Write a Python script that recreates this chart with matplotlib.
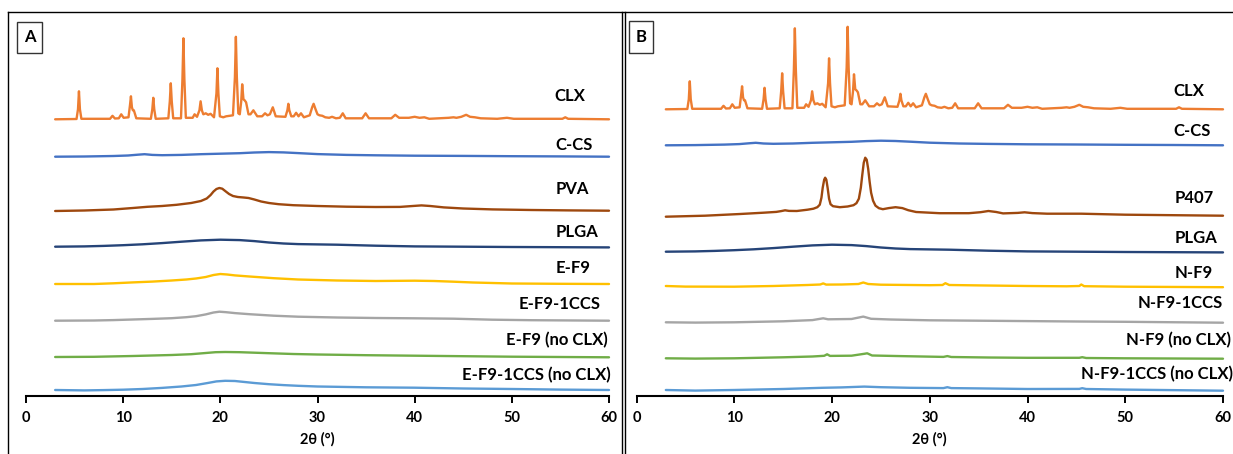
import numpy as np
import matplotlib
matplotlib.use("Agg")
import matplotlib.pyplot as plt
from matplotlib.patches import Rectangle
from matplotlib.lines import Line2D

plt.rcParams["font.family"] = ["Lato", "DejaVu Sans"]
plt.rcParams["font.weight"] = "bold"

W, H = 1233, 454

# ---------------- diffraction patterns: (2theta, intensity above baseline, a.u.) ----------------
clx = [(3, 0), (5.2, 0.3), (5.35, 10), (5.45, 28), (5.55, 10), (5.7, 0.5), (8.65, 0.5), (8.9, 3.5),
       (9.15, 0.8), (9.55, 1), (9.8, 5), (10.05, 1.5), (10.55, 2), (10.7, 14), (10.8, 23), (10.9, 12),
       (11.0, 9), (11.1, 9), (11.35, 1), (12.85, 0.5), (13.0, 10), (13.1, 21.5), (13.2, 10), (13.35, 0.5),
       (14.65, 1), (14.8, 18), (14.9, 36), (15.0, 18), (15.15, 1), (15.95, 1), (16.1, 40), (16.2, 81),
       (16.3, 40), (16.45, 1.5), (17.15, 1.5), (17.35, 5), (17.6, 2.5), (17.85, 9), (17.97, 18),
       (18.1, 9), (18.25, 5), (18.5, 6), (18.75, 4.5), (19.0, 5.5), (19.35, 2), (19.6, 26), (19.7, 51),
       (19.8, 26), (19.95, 3), (20.3, 2), (20.6, 3), (21.3, 4), (21.5, 42), (21.6, 82.5), (21.7, 42),
       (21.85, 6), (22.0, 5), (22.15, 18), (22.25, 35), (22.38, 20), (22.5, 19), (22.65, 17), (22.9, 5),
       (23.1, 5), (23.4, 9), (23.8, 3), (24.3, 3), (24.6, 6), (24.85, 4), (25.1, 5), (25.4, 12), (25.7, 3),
       (26.7, 2.5), (26.9, 9), (27.0, 15.5), (27.1, 9), (27.3, 3), (27.55, 3), (27.8, 6.5), (28.05, 3),
       (28.3, 6), (28.6, 2), (29.2, 4), (29.45, 12), (29.6, 15.5), (29.8, 10), (30.0, 5), (30.2, 4),
       (30.5, 3.5), (30.8, 2), (31.2, 1.5), (31.5, 2.5), (31.9, 1), (32.3, 1.5), (32.6, 6), (32.9, 1),
       (34.6, 1), (34.95, 6), (35.3, 1), (37.6, 1), (38.0, 4.5), (38.4, 1.5), (39.4, 1.5), (40.0, 2.5),
       (40.5, 1.5), (41.0, 2), (41.5, 0.5), (43.5, 1.5), (44.0, 2), (44.3, 1.5), (44.8, 2.5), (45.3, 4.5),
       (45.7, 2.5), (46.2, 2), (46.8, 1), (48.5, 0.5), (49.5, 1.5), (50.2, 0.5), (52, 0.5), (55.2, 0.5),
       (55.5, 2), (55.8, 0.5), (60, 0)]

c_cs = [(3, 0), (6, 0.2), (9, 0.7), (10.5, 1.2), (11.5, 2), (12.2, 2.5), (13, 1.8), (14, 1.5),
        (16, 1.8), (18, 2.5), (20, 3), (22, 3.5), (23.5, 4.2), (25, 4.6), (26.5, 4.3), (28, 3.6),
        (30, 2.6), (33, 1.8), (36, 1.4), (40, 1), (45, 0.8), (50, 0.5), (55, 0.3), (60, 0)]

pva = [(3, 0), (6, 0.5), (9, 1.5), (11, 3), (12.5, 4.2), (14, 5), (15.5, 6.2), (17, 8), (18, 10),
       (18.6, 12.5), (19.0, 16), (19.3, 19.5), (19.6, 22), (19.9, 23), (20.2, 22.3), (20.5, 20),
       (20.9, 17), (21.3, 15), (21.8, 14), (22.4, 13.5), (22.9, 13), (23.5, 11.5), (24.2, 9.5),
       (25, 8), (26, 6.8), (27.5, 5.8), (30, 5), (33, 4.3), (36, 4), (38.5, 4.1), (39.8, 5),
       (40.7, 5.6), (41.6, 5), (43, 3.6), (45, 2.5), (48, 1.6), (52, 1.0), (56, 0.6), (60, 0.3)]

plga = [(3, 0), (6, 0.3), (8, 0.8), (10, 1.5), (12, 2.4), (14, 3.6), (16, 5), (18, 6.3), (20, 7),
        (22, 6.6), (23.5, 5.6), (25, 4.2), (26.5, 3.2), (28, 2.6), (32, 2), (36, 1), (40, 0.3), (45, 0),
        (50, -0.3), (60, -0.7)]

e_f9 = [(3, 0), (7, 0), (9, 0.7), (11, 1.6), (13, 2.4), (15, 3.5), (16.5, 4.5), (17.5, 5.5), (18.5, 7),
        (19.3, 9), (20, 10), (20.7, 9.5), (21.5, 8.6), (23, 7.5), (25.5, 5.8), (28, 4.5), (32, 3.5),
        (36, 3), (40, 3.3), (42, 3), (44, 2.3), (46, 1.5), (50, 0.5), (55, 0.2), (60, 0)]

e_f9_1ccs = [(3, 0), (7, 0.2), (9, 0.6), (11, 1.2), (13, 1.8), (15, 2.5), (16.5, 3.5), (17.5, 4.5),
             (18.5, 6.3), (19.3, 8.2), (19.9, 9), (20.6, 8.5), (21.5, 7.6), (23, 6.5), (25.5, 5), (28, 4),
             (32, 3.2), (36, 2.7), (40, 2.4), (44, 2), (48, 1), (52, 0.5), (60, 0)]

e_f9_noclx = [(3, 0), (7, 0.2), (11, 1), (15, 2), (17, 2.8), (18.5, 4), (19.5, 4.8), (20.5, 5),
              (22, 4.8), (23.5, 4.3), (25, 3.8), (27.5, 3), (30, 2.5), (35, 1.8), (40, 1.3), (45, 0.8),
              (50, 0.3), (60, -0.3)]

e_f9_1ccs_noclx = [(3, 0), (6, -0.4), (8, -0.1), (10, 0.3), (12, 1), (14, 2.1), (16, 3.5), (17.5, 5),
                   (18.7, 7), (19.6, 8.6), (20.5, 9.2), (21.5, 9), (22.5, 8), (23.5, 7), (25, 5.8),
                   (26.5, 4.9), (28, 4.2), (30, 3.5), (35, 2.7), (40, 2.3), (45, 1.5), (50, 1), (55, 0.4),
                   (60, 0)]

p407 = [(3, 0), (7, 1), (10.6, 2.7), (13, 4), (14.3, 4.8), (14.8, 5.6), (15.2, 6.4), (15.6, 5.8),
        (16.4, 5.7), (17.5, 7), (18.1, 8), (18.5, 9.5), (18.75, 12), (18.92, 19), (19.05, 29), (19.2, 37),
        (19.3, 39), (19.42, 37), (19.55, 29), (19.7, 18), (19.85, 12.5), (20.1, 10.5), (20.8, 9.5),
        (21.6, 10.2), (22.2, 11.5), (22.5, 13.5), (22.75, 18), (22.95, 29), (23.1, 42), (23.25, 54),
        (23.4, 59), (23.55, 57), (23.7, 48), (23.85, 35), (24.0, 24), (24.2, 16), (24.45, 11),
        (24.8, 8.5), (25.2, 7.5), (25.8, 8.6), (26.5, 9.5), (27.2, 8.6), (27.8, 6.5), (28.6, 4.7),
        (31, 3.5), (34, 3.5), (35.2, 4.5), (36, 5.7), (36.8, 4.7), (37.5, 3.3), (39, 3.8), (39.7, 4.4),
        (40.5, 3.6), (42, 3), (45.5, 3), (50, 2), (60, 1)]

n_f9 = [(3, 0), (5, -0.6), (10, -0.7), (14, 0), (17.5, 1), (18.8, 1.5), (19.1, 2.6), (19.4, 1.4),
        (21, 1.5), (22.7, 2), (23.2, 3.5), (23.7, 2), (25, 1.3), (30, 0.8), (31.3, 1), (31.6, 2.8),
        (32, 1), (35, 0.6), (40, 0), (44, -0.3), (45.3, 0), (45.5, 1.5), (45.8, -0.2), (50, -0.7),
        (60, -1.2)]

n_f9_1ccs = [(3, 0), (6, -0.3), (10, 0), (15, 1), (18, 2.2), (19.1, 4), (19.6, 3), (22, 3.3),
             (23.2, 5.7), (24, 3.5), (26, 2.8), (30, 2), (35, 1.6), (40, 1.2), (45, 0.8), (50, 0.5),
             (60, -0.4)]

n_f9_noclx = [(3, 0), (6, -0.3), (10, 0), (15, 1), (18, 1.8), (19.2, 2.5), (19.5, 4), (19.8, 2.4),
              (22, 2.6), (23.3, 4.5), (23.6, 5), (24.1, 2.8), (27, 2.2), (31.4, 1.4), (31.8, 2.2),
              (32.2, 1.3), (36, 0.8), (40, 0.5), (45.3, 0.5), (45.6, 1.1), (46, 0.3), (50, 0), (60, -0.4)]

n_f9_1ccs_noclx = [(3, 0), (6, -0.6), (10, 0), (15, 1), (19, 2.2), (21, 2.6), (23.3, 3.4), (25, 2.8),
                   (28, 2.2), (31.4, 1.9), (31.8, 2.8), (32.2, 1.9), (35, 1.6), (40, 1), (45.3, 1.1),
                   (45.6, 1.8), (46, 1), (50, 0.4), (60, -0.7)]

# stacking offsets of each trace (a.u.)
names_a = ["CLX", "C-CS", "PVA", "PLGA", "E-F9", "E-F9-1CCS", "E-F9 (no CLX)", "E-F9-1CCS (no CLX)"]
patterns_a = [clx, c_cs, pva, plga, e_f9, e_f9_1ccs, e_f9_noclx, e_f9_1ccs_noclx]
offsets_a = [276.2, 238.8, 184.5, 148.8, 111.5, 74.8, 38.5, 5.5]

names_b = ["CLX", "C-CS", "P407", "PLGA", "N-F9", "N-F9-1CCS", "N-F9 (no CLX)", "N-F9-1CCS (no CLX)"]
patterns_b = [clx, c_cs, p407, plga, n_f9, n_f9_1ccs, n_f9_noclx, n_f9_1ccs_noclx]
offsets_b = [286.2, 250.2, 178.8, 143.8, 109.5, 73.2, 37.2, 5.5]

colors = ["#ED7D31", "#4472C4", "#9E480E", "#264478", "#FFC000", "#A5A5A5", "#70AD47", "#5B9BD5"]
x_ticks = [0, 10, 20, 30, 40, 50, 60]

# label placement (figure pixels: centre x, centre y from top)
label_pos_a = [(570, 96), (574, 145.5), (572, 189), (577, 232), (573, 268), (559.5, 304), (557, 340), (536, 375)]
label_pos_b = [(1189, 91), (1192, 131), (1194, 198), (1196, 238), (1194, 273), (1180, 303), (1178, 340), (1157, 374)]

fig = plt.figure(figsize=(W / 100, H / 100), dpi=100)
fig.patch.set_facecolor("white")

axis_y_px = 395.5
y_top = 380.0
bottom = (H - axis_y_px) / H
height = y_top / H


def panel(x0_px, x60_px, names, patterns, offsets, label_pos):
    ax = fig.add_axes([x0_px / W, bottom, (x60_px - x0_px) / W, height])
    ax.patch.set_alpha(0)
    for pat, off, col in zip(patterns, offsets, colors):
        arr = np.array(pat, dtype=float)
        ax.plot(arr[:, 0], arr[:, 1] + off, color=col, lw=1.7, solid_joinstyle="round",
                solid_capstyle="round", clip_on=False)
    ax.set_xlim(0, 60)
    ax.set_ylim(0, y_top)
    for s in ("left", "right", "top"):
        ax.spines[s].set_visible(False)
    ax.spines["bottom"].set_linewidth(1.5)
    ax.spines["bottom"].set_color("black")
    ax.set_yticks([])
    ax.set_xticks(x_ticks)
    ax.set_xticklabels([str(t) for t in x_ticks])
    ax.tick_params(axis="x", direction="out", length=5, width=1.4, pad=6, labelsize=10.5, colors="black")
    for lab in ax.get_xticklabels():
        lab.set_fontweight("bold")
    ax.set_xlabel("2θ (°)", fontsize=10.5, fontweight="bold", labelpad=5)
    for name, (lx, ly) in zip(names, label_pos):
        fig.text(lx / W, 1 - ly / H, name, ha="center", va="center", fontsize=12,
                 fontweight="bold", color="black")
    return ax


panel(26, 609, names_a, patterns_a, offsets_a, label_pos_a)
panel(636.5, 1223, names_b, patterns_b, offsets_b, label_pos_b)


# panel frames
def hline(x0, x1, y):
    fig.add_artist(Line2D([x0 / W, x1 / W], [1 - y / H, 1 - y / H], color="black", lw=1.0,
                          transform=fig.transFigure))


def vline(x, y0, y1):
    fig.add_artist(Line2D([x / W, x / W], [1 - y0 / H, 1 - y1 / H], color="black", lw=1.0,
                          transform=fig.transFigure))


hline(8, W, 12.3)
vline(8, 12.3, H)
vline(622, 12.3, H)
vline(624.8, 12.3, H)

# panel letters
for letter, (bx0, by0, bx1, by1) in [("A", (17.3, 21.7, 41.7, 53.3)), ("B", (628.8, 20.7, 653.2, 53.3))]:
    fig.add_artist(Rectangle((bx0 / W, 1 - by1 / H), (bx1 - bx0) / W, (by1 - by0) / H,
                             transform=fig.transFigure, fill=False, edgecolor="#333333", lw=1.0))
    fig.text((bx0 + bx1) / 2 / W, 1 - (by0 + by1) / 2 / H, letter, ha="center", va="center",
             fontsize=12, fontweight="bold", color="black")

fig.savefig("out.png", dpi=100)
